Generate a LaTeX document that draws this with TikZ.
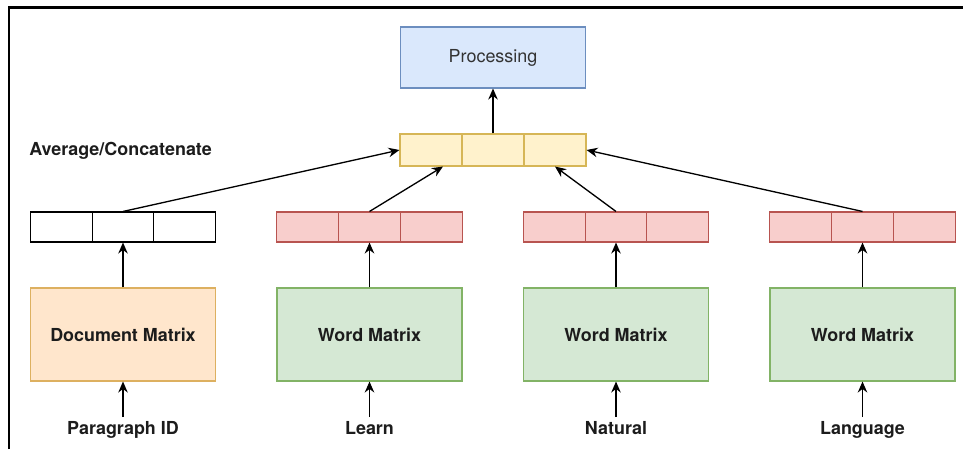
\documentclass[tikz,border=0pt]{standalone}
\usepackage{fontspec}
\setmainfont{TeX Gyre Heros}
\usetikzlibrary{arrows.meta,positioning}

\definecolor{procfill}{HTML}{DAE8FC}
\definecolor{procline}{HTML}{6C8EBF}
\definecolor{avgfill}{HTML}{FFF2CC}
\definecolor{avgline}{HTML}{D6B656}
\definecolor{vecfill}{HTML}{F8CECC}
\definecolor{vecline}{HTML}{B85450}
\definecolor{wordfill}{HTML}{D5E8D4}
\definecolor{wordline}{HTML}{82B366}
\definecolor{docfill}{HTML}{FFE6CC}
\definecolor{docline}{HTML}{DDB060}
\definecolor{ink}{HTML}{1C1C1C}

\begin{document}
\begin{tikzpicture}[>={Stealth[length=2.2mm, width=1.9mm]}, every node/.style={font=\fontsize{10.2}{12}\selectfont, text=ink},
  box/.style={draw, line width=0.6pt, minimum width=3.7cm, inner sep=0pt},
  cell/.style={draw, line width=0.6pt, minimum width=1.235cm, minimum height=6mm, inner sep=0pt},
  lbl/.style={font=\fontsize{10.2}{12}\selectfont\bfseries},
  input/.style={lbl, text height=2.7mm, text depth=0.9mm, inner sep=2pt},
  link/.style={->, line width=0.75pt}]
\useasboundingbox (0,0) rectangle (19.26,8.98);
% frame on top and left only
\draw[line width=1.7pt] (0.18,0) -- (0.18,8.82) -- (19.26,8.82);

\node[box, fill=procfill, draw=procline, minimum height=1.22cm, text=ink!90] (proc) at (9.86,7.83) {Processing};

% averaged / concatenated vector
\node[cell, fill=avgfill, draw=avgline, minimum width=1.24cm, minimum height=6.4mm] (cc1) at (8.62,5.98) {};
\node[cell, fill=avgfill, draw=avgline, minimum width=1.24cm, minimum height=6.4mm] (cc2) at (9.86,5.98) {};
\node[cell, fill=avgfill, draw=avgline, minimum width=1.24cm, minimum height=6.4mm] (cc3) at (11.10,5.98) {};
\node[lbl, anchor=west, inner sep=0pt] (avg) at (0.58,5.96) {Average/Concatenate};

% paragraph vector
\node[cell] (dv1) at (1.225,4.44) {};
\node[cell] (dv2) at (2.46,4.44) {};
\node[cell] (dv3) at (3.695,4.44) {};
% word vectors
\node[cell, fill=vecfill, draw=vecline] (lv1) at (6.155,4.44) {};
\node[cell, fill=vecfill, draw=vecline] (lv2) at (7.39,4.44) {};
\node[cell, fill=vecfill, draw=vecline] (lv3) at (8.625,4.44) {};
\node[cell, fill=vecfill, draw=vecline] (nv1) at (11.085,4.44) {};
\node[cell, fill=vecfill, draw=vecline] (nv2) at (12.32,4.44) {};
\node[cell, fill=vecfill, draw=vecline] (nv3) at (13.555,4.44) {};
\node[cell, fill=vecfill, draw=vecline] (gv1) at (16.015,4.44) {};
\node[cell, fill=vecfill, draw=vecline] (gv2) at (17.25,4.44) {};
\node[cell, fill=vecfill, draw=vecline] (gv3) at (18.485,4.44) {};

% lookup matrices
\node[box, lbl, fill=docfill, draw=docline, minimum height=1.86cm] (docm) at (2.46,2.29) {Document Matrix};
\node[box, lbl, fill=wordfill, draw=wordline, minimum height=1.86cm] (lm) at (7.39,2.29) {Word Matrix};
\node[box, lbl, fill=wordfill, draw=wordline, minimum height=1.86cm] (nm) at (12.32,2.29) {Word Matrix};
\node[box, lbl, fill=wordfill, draw=wordline, minimum height=1.86cm] (gm) at (17.25,2.29) {Word Matrix};

% inputs
\node[input, anchor=base] (pid) at (2.46,0.29) {Paragraph ID};
\node[input, anchor=base] (learn) at (7.39,0.29) {Learn};
\node[input, anchor=base] (nat) at (12.32,0.29) {Natural};
\node[input, anchor=base] (lang) at (17.25,0.29) {Language};

\draw[link] (pid.north) -- (docm.south);
\draw[link] (learn.north) -- (lm.south);
\draw[link] (nat.north) -- (nm.south);
\draw[link] (lang.north) -- (gm.south);
\draw[link] (docm.north) -- (dv2.south);
\draw[link] (lm.north) -- (lv2.south);
\draw[link] (nm.north) -- (nv2.south);
\draw[link] (gm.north) -- (gv2.south);
\draw[link] (dv2.north) -- (cc1.west);
\draw[link] (lv2.north) -- ([xshift=-1cm]cc2.south);
\draw[link] (nv2.north) -- (cc3.south);
\draw[link] (gv2.north) -- (cc3.east);
\draw[link] (cc2.north) -- (proc.south);
\end{tikzpicture}
\end{document}
